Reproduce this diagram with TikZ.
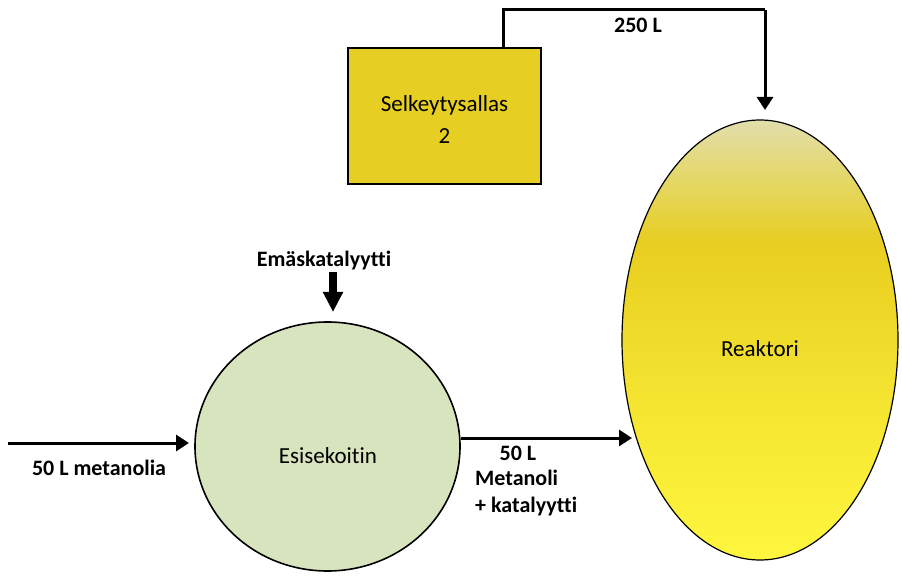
\documentclass[tikz,border=0pt]{standalone}
\usepackage{fontspec}
\setmainfont{Carlito}[Ligatures=NoCommon]
\usetikzlibrary{arrows.meta,shapes.geometric,calc}
\definecolor{boxyellow}{RGB}{230,206,34}
\definecolor{mixgreen}{RGB}{215,228,189}
\definecolor{rkA}{RGB}{255,246,62}
\definecolor{rkB}{RGB}{245,230,50}
\definecolor{rkC}{RGB}{232,206,32}
\definecolor{rkD}{RGB}{228,216,110}
\definecolor{rkE}{RGB}{226,222,172}
\pgfdeclareverticalshading{reakshade}{100bp}{
  color(0bp)=(rkA);
  color(25bp)=(rkA);
  color(42bp)=(rkB);
  color(61bp)=(rkC);
  color(69bp)=(rkD);
  color(75bp)=(rkE);
  color(100bp)=(rkE)}
\tikzset{
  lbl/.style={font=\fontsize{22}{26}\selectfont\bfseries, inner sep=0pt},
  txt/.style={font=\fontsize{23}{32}\selectfont, inner sep=0pt},
  arr/.style={line width=3pt, -{Triangle[length=13pt,width=16pt]}},
  bigarr/.style={line width=8pt, -{Triangle[length=20pt,width=19pt]}},
  tank/.style={draw=black, line width=1.6pt}
}
\begin{document}
\begin{tikzpicture}[x=1pt,y=1pt]
\useasboundingbox (0,0) rectangle (902,587);
% nodes
\node[tank, fill=boxyellow, minimum width=193pt, minimum height=136pt, inner sep=0pt] (box) at (444.5,471) {};
\node[txt, align=center] (boxtxt) at (444.5,467) {Selkeytysallas\\2};
\node[ellipse, draw=black, line width=1.2pt, shading=reakshade, minimum width=276pt, minimum height=440pt, inner sep=0pt] (reak) at (760,247) {};
\node[txt, anchor=base] (reaktxt) at (760,230) {Reaktori};
\node[ellipse, draw=black, line width=1.6pt, fill=mixgreen, minimum width=265pt, minimum height=249pt, inner sep=0pt] (esi) at (327.5,140.5) {};
\node[txt, anchor=base] (esitxt) at (328,124) {Esisekoitin};
% labels
\node[lbl, anchor=base] (l250) at (638,554) {250 L};
\node[lbl, anchor=base] (lemas) at (324,320) {Emäskatalyytti};
\node[lbl, anchor=base] (lin) at (99,112) {50 L metanolia};
\node[lbl, anchor=base] (lout1) at (518,127) {50 L};
\node[lbl, anchor=base west] (lout2) at (475,102) {Metanoli};
\node[lbl, anchor=base west] (lout3) at (475,75) {+ katalyytti};
% coordinates
\coordinate (t1) at (503,577);
\coordinate (t2) at (765,577);
\coordinate (tend) at (765,477);
\coordinate (inst) at (8,144);
\coordinate (inend) at (189,144);
\coordinate (mend) at (632,149);
\coordinate (est) at (333,315);
\coordinate (eend) at (333,275);
% connectors
\draw[line width=3pt] (box.north -| t1) -- (t1) -- (t2);
\draw[arr] (t2) -- (tend);
\draw[arr] (inst) -- (inend);
\draw[arr] (esi.east |- mend) -- (mend);
\draw[bigarr] (est) -- (eend);
\end{tikzpicture}
\end{document}
